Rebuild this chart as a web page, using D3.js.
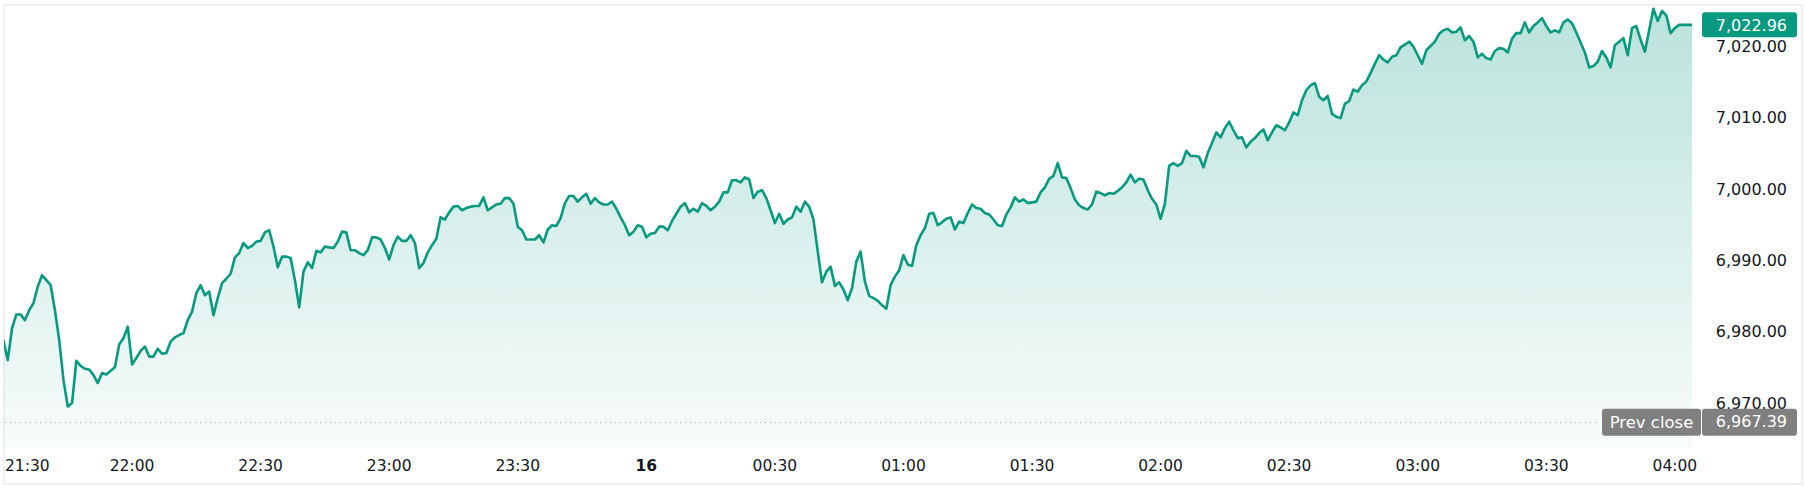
<!DOCTYPE html>
<html>
<head>
<meta charset="utf-8">
<script src="https://cdn.jsdelivr.net/npm/d3@7/dist/d3.min.js"></script>
<style>
  html, body { margin: 0; padding: 0; background: #ffffff; }
  svg { display: block; }
  text { font-family: "DejaVu Sans", Verdana, sans-serif; }
</style>
</head>
<body>
<svg id="chart" width="1805" height="489"></svg>
<script>
// ---- data (one value per minute, starting at startTime) ----
const startTime = "2025-01-15T21:30:00";
const stepMinutes = 1;
const prices = [
 6978.7,6976.0,6980.5,6982.4,6982.4,6981.6,6983.0,6984.0,6986.3,6987.9,
 6987.2,6986.5,6983.0,6978.8,6973.2,6969.5,6970.0,6975.9,6975.2,6974.8,
 6974.7,6973.9,6972.8,6974.2,6974.0,6974.5,6975.0,6978.2,6979.1,6980.7,
 6975.4,6976.3,6977.3,6977.9,6976.5,6976.5,6977.6,6976.9,6977.0,6978.6,
 6979.2,6979.5,6979.8,6981.6,6982.8,6985.4,6986.5,6985.1,6985.6,6982.3,
 6984.7,6986.8,6987.4,6988.1,6990.4,6991.0,6992.4,6991.7,6992.0,6992.6,
 6992.7,6993.9,6994.2,6991.9,6989.0,6990.5,6990.5,6990.3,6987.2,6983.4,
 6988.4,6989.7,6988.9,6991.3,6991.1,6991.9,6991.8,6991.7,6992.6,6994.0,
 6993.9,6991.4,6991.4,6991.0,6990.7,6991.4,6993.2,6993.2,6992.9,6991.7,
 6990.1,6992.1,6993.3,6992.7,6992.7,6993.5,6992.4,6988.9,6989.6,6991.1,
 6992.1,6993.0,6996.0,6995.7,6996.7,6997.5,6997.6,6997.0,6997.3,6997.5,
 6997.6,6997.6,6998.8,6997.0,6997.4,6997.8,6997.9,6998.7,6998.7,6997.9,
 6994.7,6994.2,6992.9,6992.9,6992.9,6993.5,6992.5,6994.3,6994.9,6994.8,
 6995.9,6998.0,6999.0,6999.0,6998.2,6998.8,6999.3,6997.9,6998.7,6998.1,
 6997.8,6997.8,6998.2,6997.2,6996.0,6994.9,6993.5,6994.0,6994.9,6994.7,
 6993.2,6993.7,6993.8,6994.7,6994.7,6994.2,6995.5,6996.5,6997.5,6998.0,
 6996.7,6997.2,6996.8,6998.0,6997.6,6997.0,6997.5,6998.2,6999.5,6999.5,
 7001.2,7001.2,7000.9,7001.6,7001.3,6998.7,6999.6,6999.8,6998.7,6997.0,
 6995.2,6996.5,6995.1,6995.7,6996.0,6997.5,6996.8,6998.2,6997.5,6995.7,
 6991.2,6986.9,6988.4,6989.1,6986.4,6986.9,6985.9,6984.4,6986.1,6989.8,
 6991.2,6987.0,6985.0,6984.7,6984.3,6983.7,6983.2,6986.5,6987.7,6988.6,
 6990.7,6989.4,6989.2,6992.1,6993.5,6994.5,6996.5,6996.6,6994.9,6995.3,
 6995.8,6996.0,6994.3,6995.4,6995.2,6996.6,6997.8,6997.3,6997.2,6996.6,
 6996.4,6995.7,6994.9,6994.8,6996.4,6997.4,6998.8,6998.2,6998.5,6998.0,
 6998.1,6998.2,6999.5,7000.2,7001.4,7001.8,7003.6,7001.6,7001.5,7000.1,
 6998.5,6997.7,6997.3,6997.1,6997.8,6999.6,6999.4,6999.1,6999.4,6999.3,
 6999.7,7000.2,7000.9,7002.0,7000.9,7001.4,7001.3,6999.8,6998.6,6997.8,
 6995.8,6997.9,7003.2,7003.6,7003.2,7003.6,7005.3,7004.6,7004.6,7004.5,
 7003.0,7005.0,7006.4,7007.9,7007.2,7008.5,7009.4,7008.2,7007.1,7007.2,
 7005.8,7006.6,7007.1,7007.8,7008.3,7006.8,7007.9,7008.9,7008.6,7008.2,
 7009.3,7010.7,7010.3,7012.4,7013.8,7014.5,7014.8,7012.9,7012.4,7013.0,
 7010.5,7010.1,7009.9,7011.9,7012.3,7013.9,7013.6,7014.5,7015.0,7016.2,
 7017.5,7018.7,7018.1,7017.7,7018.5,7018.7,7019.8,7020.2,7020.6,7019.9,
 7018.7,7017.5,7019.4,7020.0,7020.6,7021.7,7022.2,7022.4,7021.9,7022.0,
 7022.6,7020.8,7021.4,7020.6,7018.4,7018.9,7018.3,7018.1,7019.3,7019.7,
 7019.6,7019.1,7021.0,7021.8,7021.8,7023.3,7021.9,7022.8,7023.3,7023.9,
 7022.8,7021.9,7022.2,7021.9,7023.3,7023.7,7023.2,7021.9,7020.5,7019.1,
 7017.0,7017.2,7017.8,7019.3,7018.4,7017.0,7020.1,7020.6,7021.1,7018.7,
 7022.5,7022.8,7020.9,7019.2,7022.2,7025.2,7023.5,7024.9,7024.3,7021.8,
 7022.5,7022.96,7022.96,7022.96,7022.96
];
const lastPrice = 7022.96;
const prevClose = 6967.39;
const priceTicks = [6970, 6980, 6990, 7000, 7010, 7020];
const timeTicks = ["2025-01-15T21:30:00","2025-01-15T22:00:00","2025-01-15T22:30:00","2025-01-15T23:00:00",
  "2025-01-15T23:30:00","2025-01-16T00:00:00","2025-01-16T00:30:00","2025-01-16T01:00:00","2025-01-16T01:30:00",
  "2025-01-16T02:00:00","2025-01-16T02:30:00","2025-01-16T03:00:00","2025-01-16T03:30:00","2025-01-16T04:00:00"];
const timeTickLabels = ["21:30","22:00","22:30","23:00","23:30","16","00:30","01:00","01:30","02:00","02:30","03:00","03:30","04:00"];
const prevCloseLabel = "Prev close";

// ---- layout ----
const W = 1805, H = 489;
const plotLeft = 3.5, plotRight = 1692, plotTop = 6, plotBottom = 448;
const teal = "#089981";

const t0 = new Date(startTime);
const data = prices.map((v, i) => ({ t: d3.timeMinute.offset(t0, i * stepMinutes), v }));

const x = d3.scaleTime()
  .domain([t0, data[data.length - 1].t])
  .range([plotLeft, plotRight]);
const y = d3.scaleLinear().domain([6970, 7020]).range([403, 46]);

const svg = d3.select("#chart");
const defs = svg.append("defs");
const grad = defs.append("linearGradient").attr("id", "areaGrad")
  .attr("gradientUnits", "userSpaceOnUse")
  .attr("x1", 0).attr("x2", 0).attr("y1", plotTop).attr("y2", plotBottom);
grad.append("stop").attr("offset", "0%").attr("stop-color", teal).attr("stop-opacity", 0.28);
grad.append("stop").attr("offset", "100%").attr("stop-color", teal).attr("stop-opacity", 0.03);

defs.append("clipPath").attr("id", "plotClip").append("rect")
  .attr("x", 4).attr("y", plotTop).attr("width", plotRight - 4).attr("height", plotBottom - plotTop);

// frame
svg.append("rect").attr("x", 4).attr("y", 5).attr("width", 1798).attr("height", 479)
  .attr("fill", "none").attr("stroke", "#eef0f3").attr("stroke-width", 2);

const g = svg.append("g").attr("clip-path", "url(#plotClip)");

const area = d3.area().x(d => x(d.t)).y0(plotBottom).y1(d => y(d.v));
const line = d3.line().x(d => x(d.t)).y(d => y(d.v));

g.append("path").datum(data).attr("d", area).attr("fill", "url(#areaGrad)");

// prev close dotted line
g.append("line").attr("x1", 5).attr("x2", 1600)
  .attr("y1", Math.round(y(prevClose)) + 0.5).attr("y2", Math.round(y(prevClose)) + 0.5)
  .attr("stroke", "#9a9ea6").attr("stroke-width", 1).attr("stroke-dasharray", "1 4");

g.append("path").datum(data).attr("d", line)
  .attr("fill", "none").attr("stroke", teal).attr("stroke-width", 2.6)
  .attr("stroke-linejoin", "round").attr("stroke-linecap", "round");

// price axis labels
const yFmt = d3.format(",.2f");
svg.append("g").selectAll("text").data(priceTicks).join("text")
  .attr("x", 1787).attr("y", d => y(d)).attr("dy", "0.36em")
  .attr("text-anchor", "end").attr("font-size", 16).attr("fill", "#131722")
  .text(d => yFmt(d));

// time axis labels
const xg = svg.append("g");
timeTicks.forEach((ts, i) => {
  const px = x(new Date(ts));
  const label = timeTickLabels[i];
  const tx = xg.append("text")
    .attr("y", 465).attr("dy", "0.36em")
    .attr("font-size", 15.5).attr("fill", "#131722")
    .attr("font-weight", label === "16" ? "bold" : "normal")
    .text(label);
  if (px - 22 < 5) { tx.attr("x", 5).attr("text-anchor", "start"); }
  else { tx.attr("x", px).attr("text-anchor", "middle"); }
});

// last price badge
const yl = y(lastPrice);
svg.append("rect").attr("x", 1702).attr("y", yl - 12.5).attr("width", 95).attr("height", 25)
  .attr("rx", 3).attr("fill", teal);
svg.append("text").attr("x", 1787).attr("y", yl).attr("dy", "0.36em")
  .attr("text-anchor", "end").attr("font-size", 16).attr("fill", "#ffffff")
  .text(yFmt(lastPrice));

// prev close badge
const yp = y(prevClose);
const grey = "#808080";
svg.append("rect").attr("x", 1602).attr("y", yp - 13).attr("width", 99).attr("height", 27)
  .attr("rx", 3).attr("fill", grey);
svg.append("rect").attr("x", 1702).attr("y", yp - 13).attr("width", 95).attr("height", 27)
  .attr("rx", 3).attr("fill", grey);
svg.append("text").attr("x", 1651.5).attr("y", yp).attr("dy", "0.36em")
  .attr("text-anchor", "middle").attr("font-size", 16.5).attr("fill", "#ffffff")
  .text(prevCloseLabel);
svg.append("text").attr("x", 1787).attr("y", yp).attr("dy", "0.36em")
  .attr("text-anchor", "end").attr("font-size", 16).attr("fill", "#ffffff")
  .text(yFmt(prevClose));
</script>
</body>
</html>
